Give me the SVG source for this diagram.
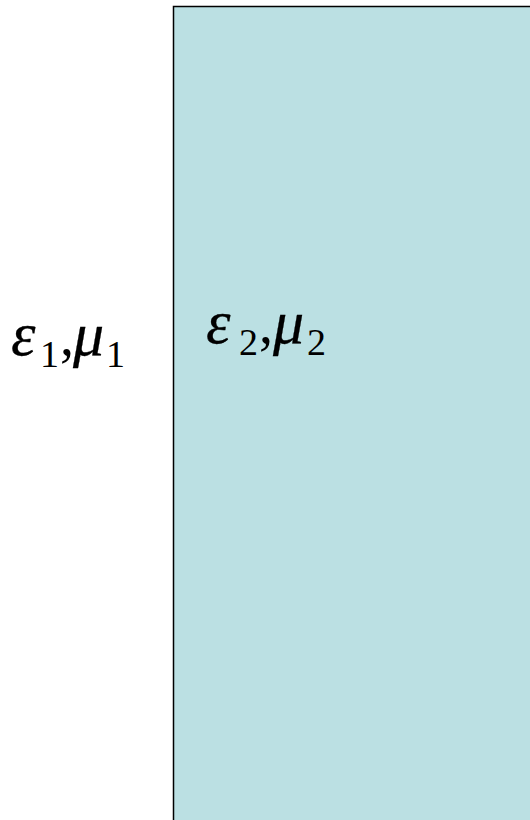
<svg xmlns="http://www.w3.org/2000/svg" width="530" height="820" viewBox="0 0 530 820">
<style>
text{font-family:"Liberation Serif","Times New Roman",serif;fill:#000}
.g{font-style:italic;font-size:62px;stroke:#000;stroke-width:0.3}
.s{font-size:38px}
.c{font-size:56px}
</style>
<rect width="530" height="820" fill="#fff"/>
<g id="medium2">
<rect x="173.5" y="6.5" width="370" height="830" fill="#BBE0E3" stroke="#000" stroke-width="1.5"/>
<text x="0" y="0"><tspan class="g" x="206" y="343">ε</tspan><tspan class="s" x="239" y="355">2</tspan><tspan class="c" x="259" y="343">,</tspan><tspan class="g" x="273" y="343">μ</tspan><tspan class="s" x="307" y="355">2</tspan></text>
</g>
<g id="medium1">
<text x="0" y="0"><tspan class="g" x="11" y="355">ε</tspan><tspan class="s" x="40" y="367">1</tspan><tspan class="c" x="60" y="355">,</tspan><tspan class="g" x="73" y="355">μ</tspan><tspan class="s" x="106" y="367">1</tspan></text>
</g>
</svg>
